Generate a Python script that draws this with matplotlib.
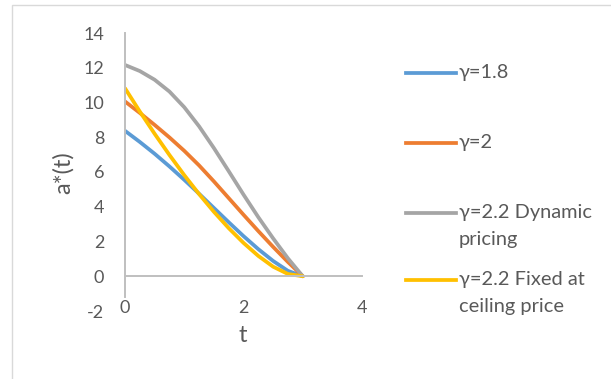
import matplotlib.pyplot as plt
from matplotlib.lines import Line2D
from matplotlib.patches import Rectangle

t = [0, 0.25, 0.5, 0.75, 1.0, 1.25, 1.5, 1.75, 2.0, 2.25, 2.5, 2.75, 3.0]

a_18 = [8.37, 7.73, 7.05, 6.32, 5.55, 4.75, 3.93, 3.11, 2.31, 1.56, 0.88, 0.31, 0.0]
a_20 = [10.06, 9.40, 8.71, 7.99, 7.22, 6.38, 5.46, 4.50, 3.54, 2.60, 1.69, 0.82, 0.0]
a_22_dyn = [12.16, 11.81, 11.31, 10.63, 9.73, 8.63, 7.38, 6.05, 4.70, 3.40, 2.18, 1.03, 0.0]
a_22_fix = [10.82, 9.48, 8.20, 6.98, 5.82, 4.73, 3.71, 2.77, 1.92, 1.17, 0.55, 0.13, 0.0]

labels = ["γ=1.8", "γ=2", "γ=2.2 Dynamic\npricing", "γ=2.2 Fixed at\nceiling price"]
colors = ["#5B9BD5", "#ED7D31", "#A5A5A5", "#FFC000"]

x_ticks = [0, 2, 4]
y_ticks = [-2, 0, 2, 4, 6, 8, 10, 12, 14]


def main():
    plt.rcParams['font.family'] = ['Lato', 'DejaVu Sans']
    text_col = "#595959"
    axis_col = "#BFBFBF"

    W, H = 611, 379
    fig = plt.figure(figsize=(W / 100, H / 100), dpi=100)

    # chart frame (cropped on right and bottom)
    fig.patches.append(Rectangle((12 / W, -0.05), 1.2, 1 - 5 / H + 0.05,
                                 transform=fig.transFigure, fill=False,
                                 edgecolor="#D9D9D9", linewidth=1.0))

    ax = fig.add_axes([125 / W, 1 - 311 / H, (362 - 125) / W, (311 - 33) / H])
    series = [a_18, a_20, a_22_dyn, a_22_fix]
    for ys, c in zip(series, colors):
        ax.plot(t, ys, color=c, linewidth=2.7, solid_capstyle="round",
                solid_joinstyle="round")

    ax.set_xlim(0, 4)
    ax.set_ylim(-2, 14)
    ax.set_xticks(x_ticks)
    ax.set_yticks(y_ticks)
    ax.set_xticklabels([str(v) for v in x_ticks])
    ax.set_yticklabels([str(v) for v in y_ticks])

    for s in ["top", "right"]:
        ax.spines[s].set_visible(False)
    ax.spines["left"].set_position(("data", 0))
    ax.spines["bottom"].set_position(("data", 0))
    ax.spines["left"].set_bounds(-1.2, 14)
    ax.spines["left"].set_color(axis_col)
    ax.spines["bottom"].set_color(axis_col)
    ax.spines["left"].set_linewidth(1.4)
    ax.spines["bottom"].set_linewidth(1.4)

    ax.tick_params(axis="both", length=0, labelsize=13, colors=text_col)
    ax.tick_params(axis="x", pad=17)
    ax.tick_params(axis="y", pad=15)

    fig.text(243 / W, 1 - 335 / H, "t", ha="center", va="center",
             fontsize=17, color=text_col)
    fig.text(63 / W, 1 - 173 / H, "a*(t)", ha="center", va="center",
             rotation=90, fontsize=17, color=text_col)

    # legend drawn by hand so the key line sits on the first text line
    ys_px = [73, 143, 213, 280]
    for lab, c, yp in zip(labels, colors, ys_px):
        yf = 1 - yp / H
        fig.lines.append(Line2D([406 / W, 456 / W], [yf, yf], color=c,
                                linewidth=2.7, transform=fig.transFigure))
        fig.text(459 / W, yf + 9 / H, lab, ha="left", va="top",
                 fontsize=14.4, color=text_col, linespacing=1.7)

    plt.savefig("out.png", dpi=100)


if __name__ == "__main__":
    main()
